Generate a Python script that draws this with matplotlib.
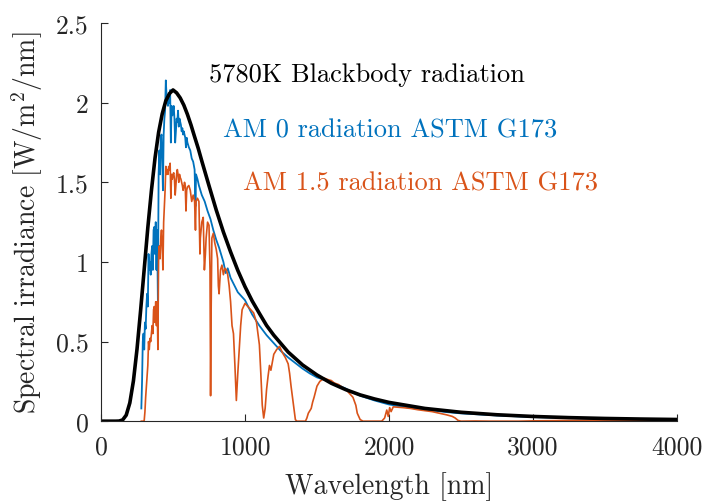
import matplotlib
matplotlib.use("Agg")
import matplotlib.pyplot as plt

plt.rcParams['font.family'] = ['cmr10', 'DejaVu Serif']
plt.rcParams['mathtext.fontset'] = 'cm'
plt.rcParams['axes.formatter.use_mathtext'] = True

# 5780 K blackbody
bb_wl = [0, 50, 100, 125, 150, 175, 200, 225, 250, 275, 300, 325, 350, 375, 400, 425, 450, 475,
         500, 525, 550, 575, 600, 625, 650, 675, 700, 750, 800, 850, 900, 950, 1000, 1050,
         1100, 1150, 1200, 1300, 1400, 1500, 1600, 1700, 1800, 1900, 2000, 2250, 2500, 2750,
         3000, 3250, 3500, 3750, 4000]
bb_val = [0.0, 0.0, 0.0, 0.0007, 0.0077, 0.038, 0.115, 0.253, 0.453, 0.696, 0.955, 1.215, 1.448,
          1.652, 1.814, 1.930, 2.012, 2.057, 2.080, 2.062, 2.030, 1.985, 1.927, 1.860, 1.786,
          1.714, 1.634, 1.479, 1.327, 1.188, 1.063, 0.947, 0.845, 0.755, 0.677, 0.601, 0.540,
          0.434, 0.353, 0.290, 0.238, 0.198, 0.165, 0.1395, 0.118, 0.080, 0.056, 0.0403,
          0.0297, 0.0224, 0.0171, 0.0134, 0.0106]

# AM 0 (ASTM G173 extraterrestrial)
am0_wl = [280, 285, 290, 295, 300, 305, 310, 315, 320, 325, 330, 335, 340, 345, 350, 355,
          360, 365, 370, 375, 380, 385, 390, 395, 400, 405, 410, 415, 420, 425, 430, 435,
          440, 445, 450, 455, 460, 465, 470, 475, 480, 485, 490, 495, 500, 505, 510, 515,
          520, 525, 530, 535, 540, 545, 550, 555, 560, 565, 570, 575, 580, 585, 590, 595,
          600, 610, 620, 630, 640, 650, 656, 660, 670, 680, 690, 700, 720, 740, 760, 780,
          800, 820, 850, 866, 880, 900, 950, 1000, 1050, 1100, 1150, 1200, 1250, 1300, 1350,
          1400, 1450, 1500, 1550, 1600, 1650, 1700, 1750, 1800, 1900, 2000, 2100, 2200,
          2300, 2400, 2500, 2750, 3000, 3250, 3500, 3750, 4000]
am0_val = [0.08, 0.25, 0.50, 0.55, 0.45, 0.62, 0.58, 0.72, 0.80, 0.72, 1.05, 0.95, 1.00, 0.92,
           1.05, 1.10, 0.95, 1.20, 1.22, 1.05, 1.25, 0.95, 1.20, 0.75, 1.55, 1.70, 1.55, 1.78,
           1.80, 1.65, 1.45, 1.80, 1.90, 1.95, 2.14, 2.05, 2.02, 1.98, 2.05, 2.00, 2.08, 1.75,
           1.98, 1.92, 1.95, 1.98, 1.90, 1.75, 1.82, 1.90, 1.88, 1.95, 1.85, 1.90, 1.88, 1.86,
           1.82, 1.84, 1.80, 1.82, 1.80, 1.78, 1.72, 1.78, 1.75, 1.72, 1.70, 1.65, 1.63, 1.58,
           1.35, 1.55, 1.52, 1.48, 1.45, 1.42, 1.38, 1.32, 1.27, 1.20, 1.14, 1.09, 1.00, 0.93,
           0.96, 0.90, 0.81, 0.76, 0.67, 0.60, 0.54, 0.49, 0.44, 0.40, 0.365, 0.33, 0.30,
           0.275, 0.26, 0.245, 0.225, 0.205, 0.18, 0.16, 0.13, 0.105, 0.09, 0.078, 0.068,
           0.057, 0.049, 0.036, 0.026, 0.02, 0.015, 0.012, 0.009]

# AM 1.5 (ASTM G173 global tilt)
am15_wl = [280, 290, 295, 300, 305, 310, 315, 320, 325, 330, 335, 340, 345, 350, 355, 360,
           365, 370, 375, 380, 385, 390, 395, 400, 405, 410, 415, 420, 425, 430, 435, 440,
           445, 450, 455, 460, 465, 470, 475, 480, 485, 490, 495, 500, 505, 510, 515, 520,
           525, 530, 535, 540, 545, 550, 555, 560, 565, 570, 575, 580, 585, 590, 595, 600,
           610, 620, 630, 640, 650, 656, 660, 670, 680, 687, 690, 700, 710, 718, 725, 730,
           740, 750, 757, 761, 765, 770, 780, 790, 800, 810, 815, 820, 830, 840, 850, 860,
           870, 880, 890, 900, 910, 920, 930, 940, 950, 960, 970, 980, 990, 1000, 1020, 1040,
           1060, 1080, 1100, 1110, 1120, 1130, 1140, 1150, 1160, 1170, 1180, 1200, 1220,
           1240, 1260, 1280, 1300, 1310, 1320, 1330, 1340, 1350, 1360, 1400, 1420, 1430,
           1440, 1460, 1470, 1480, 1500, 1520, 1550, 1580, 1600, 1620, 1650, 1680, 1700,
           1720, 1750, 1770, 1780, 1800, 1820, 1950, 1970, 1985, 1995, 2005, 2015, 2030,
           2060, 2100, 2150, 2200, 2250, 2300, 2350, 2400, 2440, 2460, 2480, 2500, 2600,
           2700, 2900, 3000, 3200, 3400, 3600, 3800, 4000]
am15_val = [0.0, 0.0, 0.0, 0.005, 0.06, 0.15, 0.22, 0.30, 0.35, 0.50, 0.45, 0.52, 0.50, 0.55,
            0.60, 0.55, 0.70, 0.72, 0.62, 0.75, 0.60, 0.75, 0.45, 1.05, 1.10, 1.02, 1.15, 1.20,
            1.10, 0.95, 1.25, 1.35, 1.45, 1.60, 1.55, 1.58, 1.55, 1.60, 1.58, 1.62, 1.40, 1.55,
            1.52, 1.55, 1.56, 1.52, 1.42, 1.48, 1.55, 1.58, 1.55, 1.50, 1.55, 1.53, 1.52, 1.50,
            1.48, 1.45, 1.47, 1.50, 1.48, 1.32, 1.45, 1.47, 1.48, 1.45, 1.38, 1.42, 1.38, 1.20,
            1.38, 1.40, 1.38, 1.05, 1.15, 1.25, 1.28, 0.95, 1.05, 1.15, 1.25, 1.23, 0.95, 0.16,
            0.70, 1.15, 1.18, 1.12, 1.08, 1.02, 0.85, 0.80, 0.95, 0.98, 0.92, 0.96, 0.95, 0.92,
            0.85, 0.75, 0.60, 0.55, 0.35, 0.13, 0.30, 0.45, 0.60, 0.70, 0.72, 0.74, 0.72, 0.70,
            0.68, 0.62, 0.48, 0.30, 0.10, 0.02, 0.08, 0.20, 0.28, 0.35, 0.32, 0.42, 0.45, 0.47,
            0.43, 0.40, 0.36, 0.30, 0.22, 0.15, 0.08, 0.01, 0.0, 0.0, 0.0, 0.02, 0.05, 0.08,
            0.12, 0.15, 0.22, 0.25, 0.27, 0.26, 0.255, 0.24, 0.23, 0.21, 0.20, 0.18, 0.15,
            0.10, 0.05, 0.01, 0.0, 0.0, 0.02, 0.07, 0.03, 0.085, 0.06, 0.09, 0.088, 0.085,
            0.08, 0.072, 0.066, 0.06, 0.05, 0.04, 0.03, 0.02, 0.005, 0.0, 0.001, 0.0, 0.0,
            0.002, 0.004, 0.005, 0.006, 0.005, 0.006]

x_ticks = [0, 1000, 2000, 3000, 4000]
y_ticks = [0, 0.5, 1, 1.5, 2, 2.5]
y_tick_labels = ['0', '0.5', '1', '1.5', '2', '2.5']

BLUE = '#0072BD'
ORANGE = '#D95319'

fig = plt.figure(figsize=(7.08, 5.02), dpi=100)
ax = fig.add_axes([0.1427, 0.159, 0.8133, 0.793])

ax.plot(am0_wl, am0_val, color=BLUE, lw=1.3)
ax.plot(am15_wl, am15_val, color=ORANGE, lw=1.2)
ax.plot(bb_wl, bb_val, color='black', lw=2.6)

ax.set_xlim(0, 4000)
ax.set_ylim(0, 2.5)
ax.set_xticks(x_ticks)
ax.set_xticklabels([str(t) for t in x_ticks])
ax.set_yticks(y_ticks)
ax.set_yticklabels(y_tick_labels)
ax.tick_params(direction='in', length=5, width=0.8, labelsize=18.5, colors='#262626',
               labelcolor='#262626')
ax.tick_params(axis='y', pad=9)
ax.tick_params(axis='x', pad=10)
for side in ('top', 'right'):
    ax.spines[side].set_visible(False)
for side in ('left', 'bottom'):
    ax.spines[side].set_color('#262626')
    ax.spines[side].set_linewidth(0.8)

ax.set_xlabel('Wavelength [nm]', fontsize=20, color='#262626', labelpad=9)
ax.set_ylabel(r'Spectral irradiance [W/m$^2$/nm]', fontsize=20, color='#262626', labelpad=8)

ax.text(1847, 2.18, '5780K Blackbody radiation', color='black', fontsize=19,
        ha='center', va='center')
ax.text(2007, 1.834, 'AM 0 radiation ASTM G173', color=BLUE, fontsize=19,
        ha='center', va='center')
ax.text(2222, 1.495, 'AM 1.5 radiation ASTM G173', color=ORANGE, fontsize=19,
        ha='center', va='center')

fig.savefig('out.png', dpi=100)
